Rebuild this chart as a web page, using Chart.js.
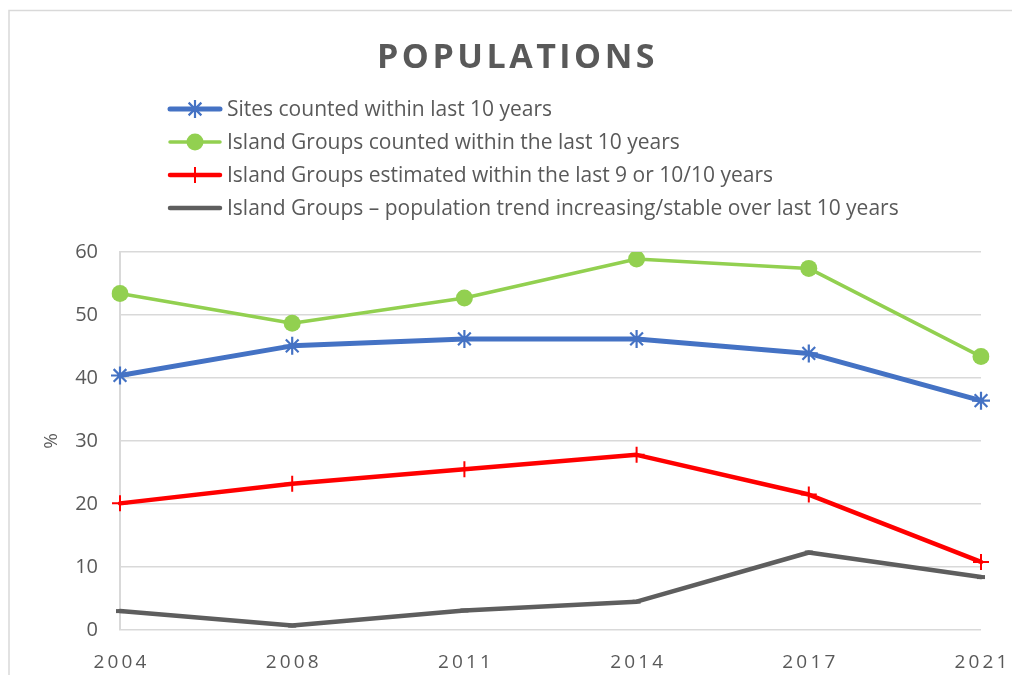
<!DOCTYPE html>
<html>
<head>
<meta charset="utf-8">
<script src="https://cdn.jsdelivr.net/npm/chart.js@4.4.1/dist/chart.umd.min.js"></script>
<style>
  html, body { margin: 0; padding: 0; background: #fff; }
  .wrap { width: 1012px; height: 675px; position: relative; }
</style>
</head>
<body>
<div class="wrap"><canvas id="popChart"></canvas></div>
<script>
/* ----------------------------Data------------------------------------*/

const years = ['2004', '2008', '2011', '2014', '2017', '2021'];
const sitesCounted = [40.4, 45.1, 46.2, 46.2, 43.9, 36.4];
const groupsCounted = [53.4, 48.7, 52.7, 58.9, 57.4, 43.4];
const groupsEstimated = [20.1, 23.2, 25.5, 27.8, 21.5, 10.8];
const groupsTrend = [3.0, 0.7, 3.1, 4.5, 12.3, 8.4];
const seriesNames = [
    'Sites counted within last 10 years',
    'Island Groups counted within the last 10 years',
    'Island Groups estimated within the last 9 or 10/10 years',
    'Island Groups \u2013 population trend increasing/stable over last 10 years'
];
const chartTitle = 'POPULATIONS';
const yTicks = [0, 10, 20, 30, 40, 50, 60];

/* ----------------------------Style------------------------------------*/

const textColor = '#595959';
const gridColor = '#D9D9D9';
const fontFamily = '"Open Sans", "Noto Sans", sans-serif';

// title + custom legend (Excel style, one item per row) + chart frame
const decor = {
    id: 'decor',
    beforeDraw(chart) {
        const c = chart.ctx;
        c.save();
        c.strokeStyle = gridColor;
        c.lineWidth = 1.5;
        c.beginPath();
        c.moveTo(9, 675);
        c.lineTo(9, 10.5);
        c.lineTo(1012, 10.5);
        c.stroke();
        c.restore();
    },
    afterDraw(chart) {
        const c = chart.ctx;
        c.save();
        // title
        c.fillStyle = textColor;
        c.font = 'bold 34px ' + fontFamily;
        c.letterSpacing = '3.5px';
        c.textAlign = 'left';
        c.textBaseline = 'alphabetic';
        c.fillText(chartTitle, 377, 68);
        c.letterSpacing = '0px';

        // legend
        c.font = '21px ' + fontFamily;
        c.textBaseline = 'middle';
        chart.data.datasets.forEach((ds, i) => {
            const y = 109 + i * 33;
            c.strokeStyle = ds.borderColor;
            c.lineWidth = ds.borderWidth;
            c.lineCap = 'round';
            c.beginPath();
            c.moveTo(170, y);
            c.lineTo(220, y);
            c.stroke();
            c.strokeStyle = ds.pointBorderColor;
            c.fillStyle = ds.pointBackgroundColor;
            c.lineWidth = ds.pointBorderWidth;
            c.lineCap = 'butt';
            if (ds.pointBorderWidth > 0 || ds.pointStyle === 'circle') {
                Chart.helpers.drawPoint(c, {
                    pointStyle: ds.pointStyle,
                    radius: ds.pointRadius,
                    borderWidth: ds.pointBorderWidth,
                    rotation: 0
                }, 195, y);
            }
            c.fillStyle = textColor;
            c.fillText(ds.label, 227, y + 1);
        });
        c.restore();
    }
};

function series(label, data, color, width, style, radius, pw) {
    return {
        label: label,
        data: data,
        borderColor: color,
        backgroundColor: color,
        borderWidth: width,
        pointStyle: style,
        pointRadius: radius,
        pointHoverRadius: radius,
        pointBorderColor: color,
        pointBackgroundColor: color,
        pointBorderWidth: pw,
        borderCapStyle: 'round',
        borderJoinStyle: 'round',
        tension: 0
    };
}

const ctx = document.getElementById('popChart').getContext('2d');
const myChart = new Chart(ctx, {
    type: 'line',
    data: {
        labels: years,
        datasets: [
            series(seriesNames[0], sitesCounted, '#4472C4', 5, 'star', 9, 2.2),
            series(seriesNames[1], groupsCounted, '#92D050', 3.5, 'circle', 8.5, 0),
            series(seriesNames[2], groupsEstimated, '#FF0000', 4.5, 'cross', 8, 2),
            series(seriesNames[3], groupsTrend, '#5E5E5E', 4.5, 'line', 4, 4)
        ]
    },
    options: {
        responsive: true,
        maintainAspectRatio: false,
        animation: false,
        layout: {
            padding: { top: 252, right: 0, bottom: 0, left: 40 }
        },
        plugins: {
            legend: { display: false },
            title: { display: false },
            tooltip: { enabled: false }
        },
        scales: {
            x: {
                offset: false,
                grid: { display: false },
                border: { display: false },
                ticks: {
                    color: textColor,
                    padding: 13,
                    maxRotation: 0,
                    font: { family: fontFamily, size: 19 },
                    callback: function(value) {
                        return this.getLabelForValue(value).split('').join('\u2009');
                    }
                },
                afterFit: (axis) => {
                    axis.height = 45;
                    axis.paddingLeft = 0;
                    axis.paddingRight = 31;
                }
            },
            y: {
                min: 0,
                max: 60,
                afterBuildTicks: (axis) => {
                    axis.ticks = yTicks.map(v => ({ value: v }));
                },
                grid: {
                    color: gridColor,
                    lineWidth: 1.5,
                    drawTicks: false
                },
                border: { display: true, color: gridColor, width: 2 },
                ticks: {
                    color: textColor,
                    padding: 22,
                    font: { family: fontFamily, size: 20 }
                },
                title: {
                    display: true,
                    text: '%',
                    color: textColor,
                    font: { family: fontFamily, size: 19 },
                    padding: { top: 0, bottom: 4 }
                },
                afterFit: (axis) => {
                    axis.width = 80;
                }
            }
        }
    },
    plugins: [decor]
});
</script>
</body>
</html>
